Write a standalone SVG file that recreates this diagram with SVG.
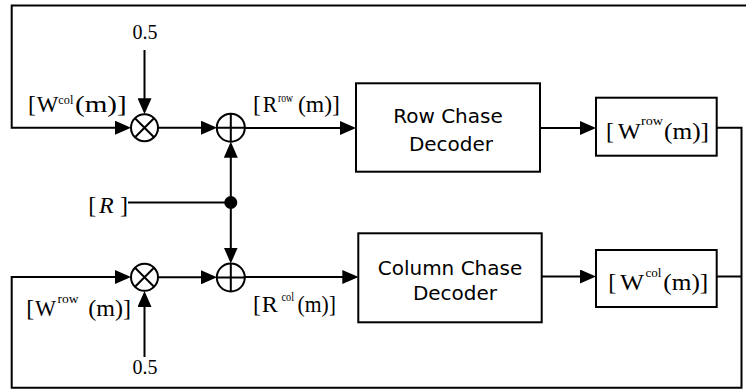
<svg xmlns="http://www.w3.org/2000/svg" width="747" height="389" viewBox="0 0 747 389">
<style>
.ln{fill:none;stroke:#000;stroke-width:2}
.ar{fill:none;stroke:#000;stroke-width:2;marker-end:url(#ah)}
.box{fill:#fff;stroke:#000;stroke-width:2}
.op{fill:#fff;stroke:#000;stroke-width:2}
.sans{font-family:"DejaVu Sans",sans-serif;font-size:20px;fill:#000}
.ser{font-family:"Liberation Serif",serif;font-size:24px;fill:#000}
.sup{font-size:13px}
</style>
<defs>
<marker id="ah" viewBox="0 0 16 14" refX="13" refY="7" markerWidth="16" markerHeight="14" orient="auto" markerUnits="userSpaceOnUse">
<path d="M0,0 L16,7 L0,14 z" fill="#000"/>
</marker>
</defs>
<g id="connectors">
<path class="ar" d="M746,5.5 H11.7 V127.7 H128"/>
<path class="ar" d="M716.7,127.7 H741.5 V387.7 H11.7 V277 H128"/>
<path class="ln" d="M716.7,276.5 H741.5"/>
<path class="ar" d="M144.5,50 V111.2"/>
<path class="ar" d="M158,127.7 H214"/>
<path class="ar" d="M245,128 H353"/>
<path class="ar" d="M540,128 H593"/>
<path class="ln" d="M128,202.5 H230.5"/>
<path class="ar" d="M230.8,202.5 V144.7"/>
<path class="ar" d="M230.8,202.5 V260.5"/>
<path class="ar" d="M144.5,357 V294"/>
<path class="ar" d="M158,277.3 H214"/>
<path class="ar" d="M245,277 H355.3"/>
<path class="ar" d="M541.7,276.5 H593"/>
<circle cx="230.8" cy="202.5" r="6.5" fill="#000"/>
</g>
<g id="mult-top">
<circle class="op" cx="144.5" cy="127.7" r="13.5"/>
<path class="ln" d="M135,118.2 L154,137.2 M154,118.2 L135,137.2"/>
</g>
<g id="add-top">
<circle class="op" cx="230.8" cy="127.7" r="14"/>
<path class="ln" d="M216.8,127.7 H244.8 M230.8,113.7 V141.7"/>
</g>
<g id="mult-bot">
<circle class="op" cx="144.5" cy="277.3" r="13.5"/>
<path class="ln" d="M135,267.8 L154,286.8 M154,267.8 L135,286.8"/>
</g>
<g id="add-bot">
<circle class="op" cx="230.8" cy="277.5" r="14"/>
<path class="ln" d="M216.8,277.5 H244.8 M230.8,263.5 V291.5"/>
</g>
<g id="row-decoder">
<rect class="box" x="356" y="83.3" width="184" height="88.4"/>
<text class="sans" x="448" y="123.3" text-anchor="middle">Row Chase</text>
<text class="sans" x="451" y="150.7" text-anchor="middle">Decoder</text>
</g>
<g id="col-decoder">
<rect class="box" x="358.3" y="233.3" width="183.4" height="89"/>
<text class="sans" x="450" y="275" text-anchor="middle">Column Chase</text>
<text class="sans" x="455" y="300" text-anchor="middle">Decoder</text>
</g>
<g id="w-row-box">
<rect class="box" x="596" y="97.7" width="120.7" height="58"/>
<text class="ser" y="139.3"><tspan x="606">[</tspan><tspan x="617.7" textLength="23" lengthAdjust="spacingAndGlyphs">W</tspan><tspan class="sup" x="641" y="125" textLength="22" lengthAdjust="spacingAndGlyphs">row</tspan><tspan x="664" y="139.3" textLength="45" lengthAdjust="spacingAndGlyphs">(m)]</tspan></text>
</g>
<g id="w-col-box">
<rect class="box" x="596" y="250" width="120.7" height="57"/>
<text class="ser" y="290"><tspan x="608.3">[</tspan><tspan x="620" textLength="24" lengthAdjust="spacingAndGlyphs">W</tspan><tspan class="sup" x="645.5" y="277" textLength="16" lengthAdjust="spacingAndGlyphs">col</tspan><tspan x="663.3" y="290" textLength="45" lengthAdjust="spacingAndGlyphs">(m)]</tspan></text>
</g>
<g id="labels">
<text class="ser" x="145" y="39" text-anchor="middle" style="font-size:20px">0.5</text>
<text class="ser" x="145" y="374.3" text-anchor="middle" style="font-size:20px">0.5</text>
<text class="ser" y="111.7"><tspan x="28">[</tspan><tspan x="36.7" textLength="21.6" lengthAdjust="spacingAndGlyphs">W</tspan><tspan class="sup" x="58.3" y="104" textLength="15" lengthAdjust="spacingAndGlyphs">col</tspan><tspan x="75" y="111.7" textLength="51.7" lengthAdjust="spacingAndGlyphs">(m)]</tspan></text>
<text class="ser" y="111.7"><tspan x="253">[</tspan><tspan x="262.7" textLength="14.5" lengthAdjust="spacingAndGlyphs">R</tspan><tspan class="sup" x="278" y="101.7" textLength="15" lengthAdjust="spacingAndGlyphs">row</tspan><tspan x="298" y="111.7" textLength="42" lengthAdjust="spacingAndGlyphs">(m)]</tspan></text>
<text class="ser" y="213.3"><tspan x="88.3">[</tspan><tspan x="99" font-style="italic">R</tspan><tspan x="120">]</tspan></text>
<text class="ser" y="316"><tspan x="26.2">[</tspan><tspan x="35" textLength="21" lengthAdjust="spacingAndGlyphs">W</tspan><tspan class="sup" x="57.5" y="303.3" textLength="21" lengthAdjust="spacingAndGlyphs">row</tspan><tspan x="88.3" y="316" textLength="42.7" lengthAdjust="spacingAndGlyphs">(m)]</tspan></text>
<text class="ser" y="311.7"><tspan x="253">[</tspan><tspan x="261.7" textLength="16" lengthAdjust="spacingAndGlyphs">R</tspan><tspan class="sup" x="281.5" y="301" textLength="12.5" lengthAdjust="spacingAndGlyphs">col</tspan><tspan x="297.5" y="311.7" textLength="38.5" lengthAdjust="spacingAndGlyphs">(m)]</tspan></text>
</g>
</svg>
